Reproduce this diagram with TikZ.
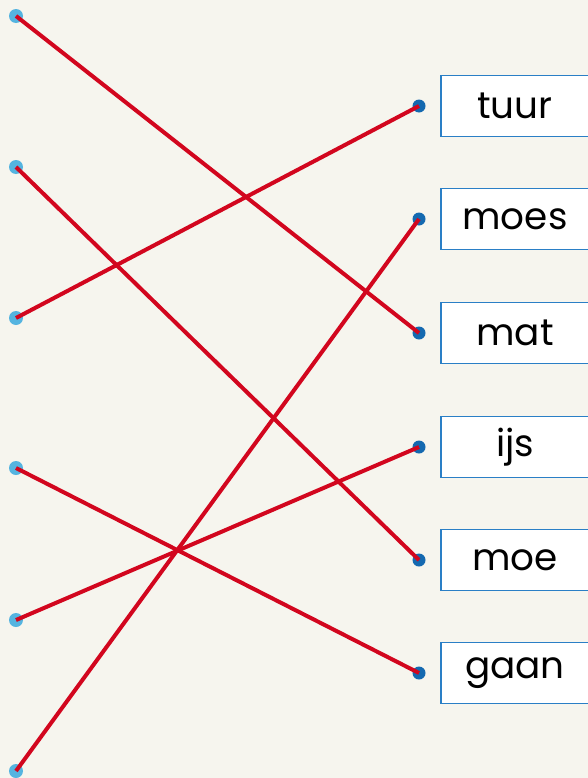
\documentclass[tikz,border=0pt]{standalone}
\usepackage{fontspec}
\setmainfont{Poppins}
\usepackage{xcolor}
\definecolor{bgpaper}{HTML}{F6F5EE}
\definecolor{linered}{HTML}{D2061E}
\definecolor{dotleft}{HTML}{55B4E0}
\definecolor{dotright}{HTML}{1469B0}
\definecolor{boxblue}{HTML}{2A7FC6}
\tikzset{
  leftdot/.style={circle,fill=dotleft,inner sep=0pt,minimum size=10.5pt},
  rightdot/.style={circle,fill=dotright,inner sep=0pt,minimum size=9.75pt},
  wordbox/.style={draw=boxblue,line width=0.9pt,fill=white,minimum width=111pt,minimum height=45.5pt,inner sep=0pt,font=\fontsize{28}{30}\selectfont},
  link/.style={draw=linered,line width=3pt}
}

\begin{document}
\begin{tikzpicture}[x=0.75pt,y=-0.75pt]
\useasboundingbox (0,0) rectangle (588,778);
\fill[bgpaper] (0,0) rectangle (588,778);
\clip (0,0) rectangle (588,778);
\foreach \i/\y in {1/16,2/167,3/318,4/468,5/620,6/771}
  \node[leftdot] (l\i) at (16,\y) {};
\foreach \i/\y/\w in {1/106/tuur,2/219/moes,3/333/mat,4/447/ijs,5/560/moe,6/673/gaan}{
  \node[rightdot] (r\i) at (419,\y) {};
  \node[wordbox] (w\i) at (515,\y) {\w};
}
\foreach \a/\b in {1/3,2/5,3/1,4/6,5/4,6/2}
  \draw[link] (l\a.center) -- (r\b.center);
\end{tikzpicture}
\end{document}
